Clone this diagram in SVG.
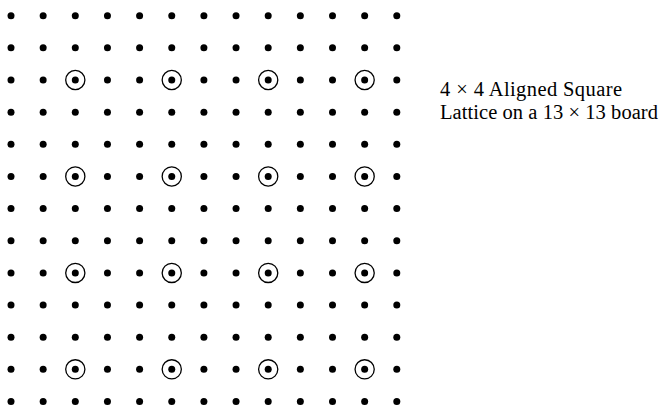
<svg xmlns="http://www.w3.org/2000/svg" xmlns:xlink="http://www.w3.org/1999/xlink" width="666" height="408" viewBox="0 0 666 408">
<style>
.dot{fill:#000}
.ring{fill:none;stroke:#000;stroke-width:1.3}
.lbl{font-family:"Liberation Serif","Times New Roman",serif;font-size:20.5px;fill:#000}
</style>
<defs>
<circle id="d" class="dot" r="3.5"/>
<circle id="r" class="ring" r="9.6"/>
<g id="row">
<use xlink:href="#d" x="11"/><use xlink:href="#d" x="43.15"/><use xlink:href="#d" x="75.3"/><use xlink:href="#d" x="107.45"/><use xlink:href="#d" x="139.6"/><use xlink:href="#d" x="171.75"/><use xlink:href="#d" x="203.9"/><use xlink:href="#d" x="236.05"/><use xlink:href="#d" x="268.2"/><use xlink:href="#d" x="300.35"/><use xlink:href="#d" x="332.5"/><use xlink:href="#d" x="364.65"/><use xlink:href="#d" x="396.8"/>
</g>
<g id="rings">
<use xlink:href="#r" x="75.3"/><use xlink:href="#r" x="171.75"/><use xlink:href="#r" x="268.2"/><use xlink:href="#r" x="364.65"/>
</g>
</defs>
<g id="board">
<use xlink:href="#row" y="15.7"/>
<use xlink:href="#row" y="47.85"/>
<use xlink:href="#row" y="80"/>
<use xlink:href="#row" y="112.15"/>
<use xlink:href="#row" y="144.3"/>
<use xlink:href="#row" y="176.45"/>
<use xlink:href="#row" y="208.6"/>
<use xlink:href="#row" y="240.75"/>
<use xlink:href="#row" y="272.9"/>
<use xlink:href="#row" y="305.05"/>
<use xlink:href="#row" y="337.2"/>
<use xlink:href="#row" y="369.35"/>
<use xlink:href="#row" y="401.5"/>
</g>
<g id="lattice">
<use xlink:href="#rings" y="80"/>
<use xlink:href="#rings" y="176.45"/>
<use xlink:href="#rings" y="272.9"/>
<use xlink:href="#rings" y="369.35"/>
</g>
<g id="caption">
<text class="lbl" x="440" y="96" textLength="182" lengthAdjust="spacing">4 × 4 Aligned Square</text>
<text class="lbl" x="440" y="119" textLength="218" lengthAdjust="spacing">Lattice on a 13 × 13 board</text>
</g>
</svg>
